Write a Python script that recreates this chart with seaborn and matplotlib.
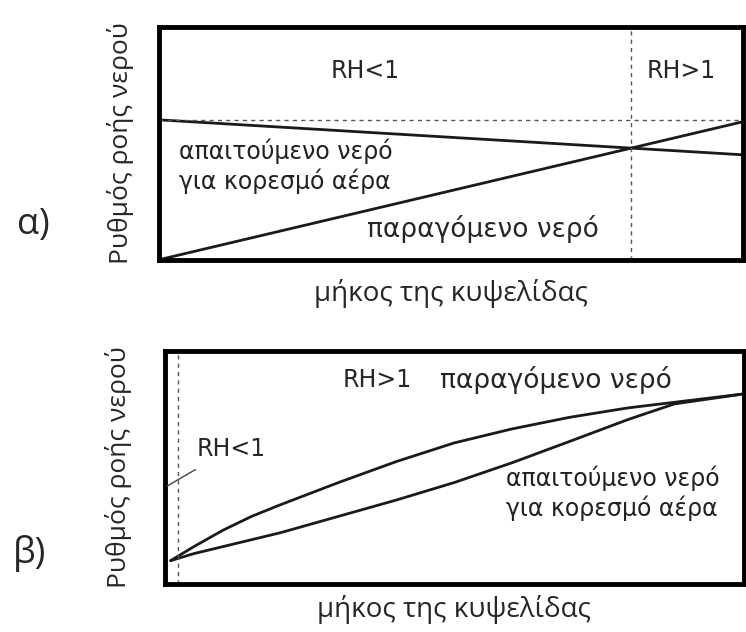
import numpy as np
import matplotlib
matplotlib.use("Agg")
import matplotlib.pyplot as plt
import seaborn as sns

# ---- data (axes fraction 0..1) ----
# panel a) : straight lines
a_x = [0.0, 1.0]
a_required = [0.60, 0.45]      # απαιτούμενο νερό
a_produced = [0.0, 0.592]      # παραγόμενο νερό
a_boundary = 0.808             # RH<1 | RH>1
a_level = 0.60                 # dotted horizontal

# panel b) : curves
b_x_produced = [0.01, 0.05, 0.10, 0.15, 0.20, 0.30, 0.40, 0.50, 0.60, 0.70, 0.80, 0.90, 1.0]
b_produced = [0.10, 0.16, 0.23, 0.29, 0.34, 0.435, 0.525, 0.605, 0.665, 0.715, 0.755, 0.785, 0.815]
b_x_required = [0.01, 0.05, 0.10, 0.15, 0.20, 0.30, 0.40, 0.50, 0.60, 0.70, 0.80, 0.88, 1.0]
b_required = [0.10, 0.13, 0.16, 0.19, 0.22, 0.29, 0.36, 0.435, 0.52, 0.612, 0.705, 0.772, 0.815]
b_boundary = 0.022

ylab = "Ρυθμός ροής νερού"
xlab = "μήκος της κυψελίδας"
req_txt = "απαιτούμενο νερό\nγια κορεσμό αέρα"
prod_txt = "παραγόμενο νερό"

sns.set_style("white")
plt.rcParams['font.family'] = ['DejaVu Sans']

fig = plt.figure(figsize=(7.46, 6.32), dpi=100)
ax1 = fig.add_axes([0.213, 0.589, 0.783, 0.369])
ax2 = fig.add_axes([0.221, 0.076, 0.776, 0.369])

line_kw = dict(color="#1a1a1a", linewidth=2.0, estimator=None, sort=False)
dash_kw = dict(color="#555555", linewidth=1.0, linestyle=(0, (3, 3)))
txt_font = ['DejaVu Sans']
lab_font = ['Open Sans', 'DejaVu Sans']

#%% panel a)
sns.lineplot(x=a_x, y=a_required, ax=ax1, **line_kw)
sns.lineplot(x=a_x, y=a_produced, ax=ax1, **line_kw)
ax1.axvline(a_boundary, **dash_kw)
ax1.axhline(a_level, **dash_kw)

ax1.text(0.353, 0.81, "RH<1", ha="center", va="center", fontsize=17, family=txt_font)
ax1.text(0.894, 0.81, "RH>1", ha="center", va="center", fontsize=17, family=txt_font)
ax1.text(0.035, 0.40, req_txt, ha="left", va="center", fontsize=17,
         family=txt_font, linespacing=1.2, color="#222222")
ax1.text(0.357, 0.13, prod_txt, ha="left", va="center", fontsize=19, family=txt_font)

#%% panel b)
sns.lineplot(x=b_x_produced, y=b_produced, ax=ax2, **line_kw)
sns.lineplot(x=b_x_required, y=b_required, ax=ax2, **line_kw)
ax2.axvline(b_boundary, **dash_kw)

ax2.text(0.367, 0.875, "RH>1", ha="center", va="center", fontsize=17, family=txt_font)
ax2.text(0.475, 0.875, prod_txt, ha="left", va="center", fontsize=19, family=txt_font)
ax2.annotate("RH<1", xy=(0.004, 0.42), xytext=(0.055, 0.58), fontsize=17,
             family=txt_font, va="center", ha="left",
             arrowprops=dict(arrowstyle="-", color="#444444", lw=1.0,
                             shrinkA=8, shrinkB=0))
ax2.text(0.59, 0.39, req_txt, ha="left", va="center", fontsize=17,
         family=txt_font, linespacing=1.2, color="#222222")

for ax in (ax1, ax2):
    ax.set_xlim(0, 1)
    ax.set_ylim(0, 1)
    ax.set_xticks([])
    ax.set_yticks([])
    for s in ax.spines.values():
        s.set_visible(True)
        s.set_color("black")
        s.set_linewidth(3.5)

ax1.set_xlabel(xlab, fontsize=20, family=lab_font, labelpad=14)
ax2.set_xlabel(xlab, fontsize=20, family=lab_font, labelpad=8)
ax1.set_ylabel(ylab, fontsize=19, family=lab_font, labelpad=18)
ax2.set_ylabel(ylab, fontsize=19, family=lab_font, labelpad=24)

fig.text(0.045, 1 - 225 / 632, "α)", fontsize=26, family=lab_font, ha="center", va="center")
fig.text(0.04, 1 - 553 / 632, "β)", fontsize=26, family=lab_font, ha="center", va="center")

fig.savefig("out.png", dpi=100, facecolor="white")
